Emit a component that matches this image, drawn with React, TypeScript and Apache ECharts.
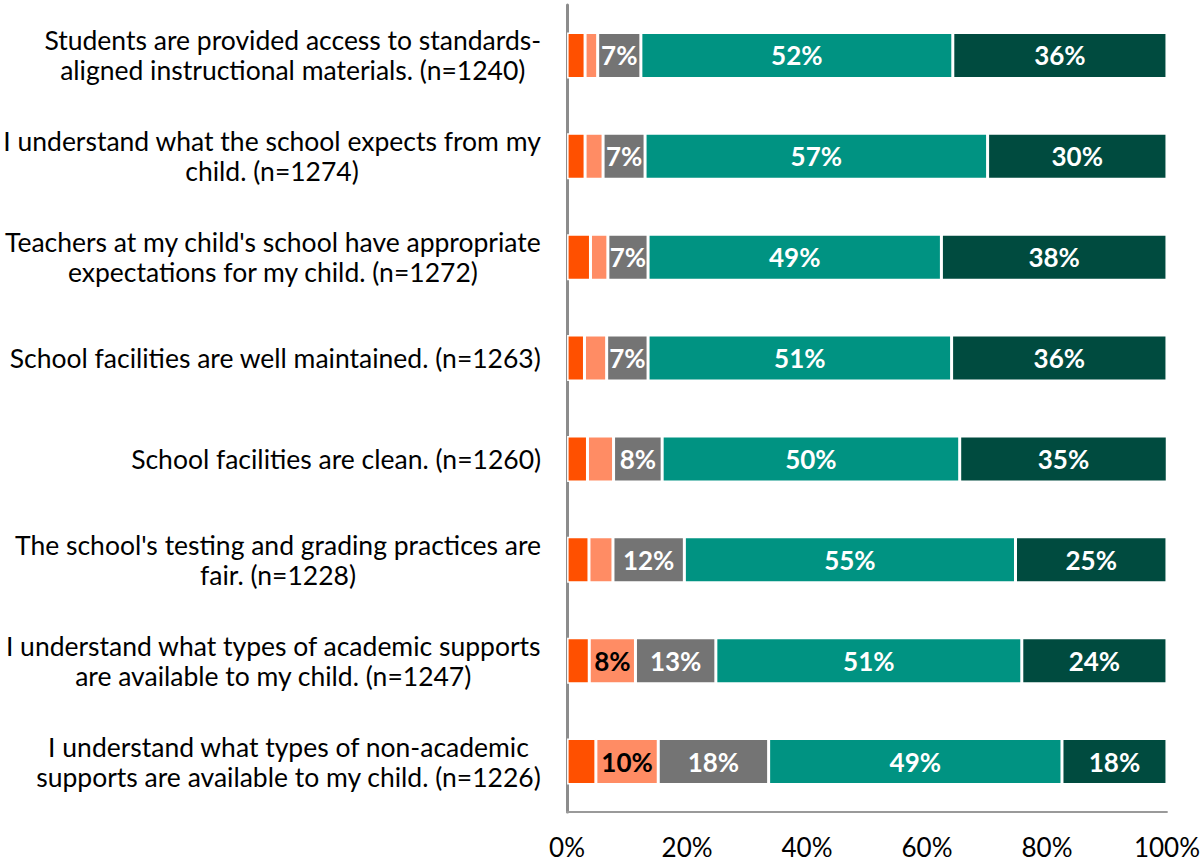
import React, { useEffect, useRef } from "react";
import * as echarts from "echarts";

const categories = [
  "Students are provided access to standards-\naligned instructional materials. (n=1240)",
  "I understand what the school expects from my\nchild. (n=1274)",
  "Teachers at my child's school have appropriate\nexpectations for my child. (n=1272)",
  "School facilities are well maintained. (n=1263)",
  "School facilities are clean. (n=1260)",
  "The school's testing and grading practices are\nfair. (n=1228)",
  "I understand what types of academic supports\nare available to my child. (n=1247)",
  "I understand what types of non-academic\nsupports are available to my child. (n=1226)",
];

const stronglyDisagree = [3.0, 3.0, 3.9, 2.9, 3.4, 3.65, 3.7, 4.8];
const disagree = [2.1, 3.0, 2.9, 3.7, 4.35, 4.0, 7.7, 10.4];
const neutral = [7.2, 7.0, 6.7, 6.9, 8.1, 11.9, 13.4, 18.4];
const agree = [52.0, 57.1, 48.9, 50.6, 49.6, 55.2, 51.0, 48.9];
const stronglyAgree = [35.7, 29.9, 37.6, 35.9, 34.6, 25.25, 24.2, 17.5];

const xTicks = [0, 20, 40, 60, 80, 100];

const FONT = "Lato, 'Noto Sans', sans-serif";

export default function App() {
  const ref = useRef<HTMLDivElement>(null);

  useEffect(() => {
    if (!ref.current) return;
    const chart = echarts.init(ref.current, undefined, { renderer: "svg" });

    const mk = (name: string, data: number[], color: string, labelColor: string) => ({
      name,
      type: "bar",
      stack: "total",
      data,
      barWidth: 46,
      itemStyle: { color, borderColor: "#ffffff", borderWidth: 1.5 },
      label: {
        show: true,
        position: "inside",
        color: labelColor,
        fontFamily: FONT,
        fontSize: 26,
        fontWeight: "bold",
        formatter: (p: any) => (p.value >= 5 ? Math.round(p.value) + "%" : ""),
      },
    });

    chart.setOption({
      animation: false,
      backgroundColor: "#ffffff",
      textStyle: { fontFamily: FONT },
      grid: { left: 566, right: 35, top: 5, bottom: 51, containLabel: false },
      xAxis: {
        type: "value",
        min: xTicks[0],
        max: xTicks[xTicks.length - 1],
        interval: 20,
        axisLine: { show: true, lineStyle: { color: "#9a9a9a", width: 2 } },
        axisTick: { show: false },
        splitLine: { show: false },
        axisLabel: {
          formatter: "{value}%",
          color: "#000000",
          fontFamily: FONT,
          fontSize: 26,
          margin: 22,
        },
      },
      yAxis: {
        type: "category",
        inverse: true,
        data: categories,
        axisLine: { show: true, lineStyle: { color: "#8c8c8c", width: 3 } },
        axisTick: { show: false },
        axisLabel: {
          margin: 26,
          color: "#000000",
          fontFamily: FONT,
          fontSize: 26.5,
          lineHeight: 30,
          formatter: (v: string) =>
            v
              .split("\n")
              .map((l) => "{a|" + l + "}")
              .join("\n"),
          rich: {
            a: {
              align: "center",
              color: "#000000",
              fontFamily: FONT,
              fontSize: 26.5,
              lineHeight: 30,
            },
          },
        },
      },
      series: [
        mk("Strongly disagree", stronglyDisagree, "#FF5000", "#000000"),
        mk("Disagree", disagree, "#FF8C64", "#000000"),
        mk("Neither agree nor disagree", neutral, "#747474", "#ffffff"),
        mk("Agree", agree, "#009382", "#ffffff"),
        mk("Strongly agree", stronglyAgree, "#004B3F", "#ffffff"),
      ],
    });

    return () => chart.dispose();
  }, []);

  return (
    <div
      ref={ref}
      style={{ position: "absolute", left: 0, top: 0, width: 1203, height: 863 }}
    />
  );
}
